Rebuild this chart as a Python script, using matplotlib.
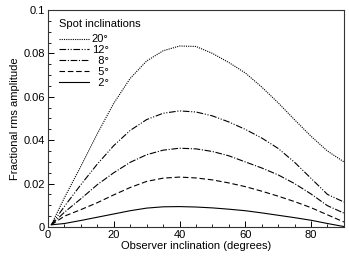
import matplotlib
matplotlib.use("Agg")
from matplotlib import pyplot as plt
from matplotlib.ticker import MultipleLocator, FuncFormatter

plt.rcParams['font.family'] = ['Liberation Sans', 'DejaVu Sans']
plt.rcParams['font.size'] = 8

# observer inclination (degrees)
obs_incl = [1, 5, 10, 15, 20, 25, 30, 35, 40, 45, 50, 55, 60, 65, 70, 75, 80, 85, 90]

# fractional rms amplitude per spot inclination
amp_20 = [0.001, 0.0135, 0.028, 0.043, 0.057, 0.0685, 0.0765, 0.0812, 0.0834, 0.0832,
          0.0800, 0.0758, 0.0710, 0.0645, 0.0572, 0.0494, 0.0418, 0.0350, 0.0300]
amp_12 = [0.001, 0.0095, 0.0195, 0.029, 0.0375, 0.0445, 0.0495, 0.0524, 0.0535, 0.0530,
          0.0512, 0.0484, 0.0450, 0.0410, 0.0362, 0.0298, 0.0224, 0.0150, 0.0115]
amp_8 = [0.001, 0.0068, 0.0130, 0.0195, 0.0250, 0.0298, 0.0333, 0.0354, 0.0363, 0.0360,
         0.0348, 0.0328, 0.0300, 0.0272, 0.0240, 0.0200, 0.0152, 0.0098, 0.0064]
amp_5 = [0.001, 0.0050, 0.0080, 0.0112, 0.0148, 0.0182, 0.0210, 0.0225, 0.0230, 0.0226,
         0.0217, 0.0203, 0.0186, 0.0165, 0.0142, 0.0117, 0.0089, 0.0056, 0.0023]
amp_2 = [0.001, 0.0016, 0.0030, 0.0045, 0.0060, 0.0075, 0.0087, 0.0093, 0.0094, 0.0092,
         0.0088, 0.0082, 0.0075, 0.0065, 0.0054, 0.0043, 0.0031, 0.0016, 0.0002]

labels = ["20°", "12°", "\u20078°", "\u20075°", "\u20072°"]
series = [amp_20, amp_12, amp_8, amp_5, amp_2]
styles = [(0, (1, 1)), (0, (6, 1.5, 1, 1.5, 1, 1.5)), (0, (6, 1.5, 1, 1.5)), (0, (5, 2.5)), '-']

fig = plt.figure(figsize=(3.49, 2.59), dpi=100)
ax = fig.add_axes([0.1375, 0.1236, 0.848, 0.8378])

for vals, lab, ls in zip(series, labels, styles):
    ax.plot(obs_incl, vals, color='black', linestyle=ls, linewidth=0.8, label=lab)

ax.set_xlim(0, 90)
ax.set_ylim(0, 0.1)
ax.xaxis.set_major_locator(MultipleLocator(20))
ax.xaxis.set_minor_locator(MultipleLocator(5))
ax.yaxis.set_major_locator(MultipleLocator(0.02))
ax.yaxis.set_minor_locator(MultipleLocator(0.005))
ax.yaxis.set_major_formatter(FuncFormatter(lambda v, p: "%g" % round(v, 3)))
ax.tick_params(which='both', direction='in', top=False, right=False, labelsize=8, pad=2)
ax.tick_params(which='major', length=4, width=0.7)
ax.tick_params(which='minor', length=2, width=0.6)
for s in ax.spines.values():
    s.set_linewidth(0.8)
    s.set_color('#333333')

ax.set_xlabel('Observer inclination (degrees)', labelpad=1)
ax.set_ylabel('Fractional rms amplitude', labelpad=3)

leg = ax.legend(title='Spot inclinations', loc='upper left', frameon=False,
                fontsize=8, title_fontsize=8, handlelength=2.7, handletextpad=0.25,
                labelspacing=0.08, borderaxespad=0.2, bbox_to_anchor=(0.015, 0.99))
leg._legend_box.align = 'left'
leg._legend_box.sep = 4.0

fig.savefig('out.png', dpi=100)
